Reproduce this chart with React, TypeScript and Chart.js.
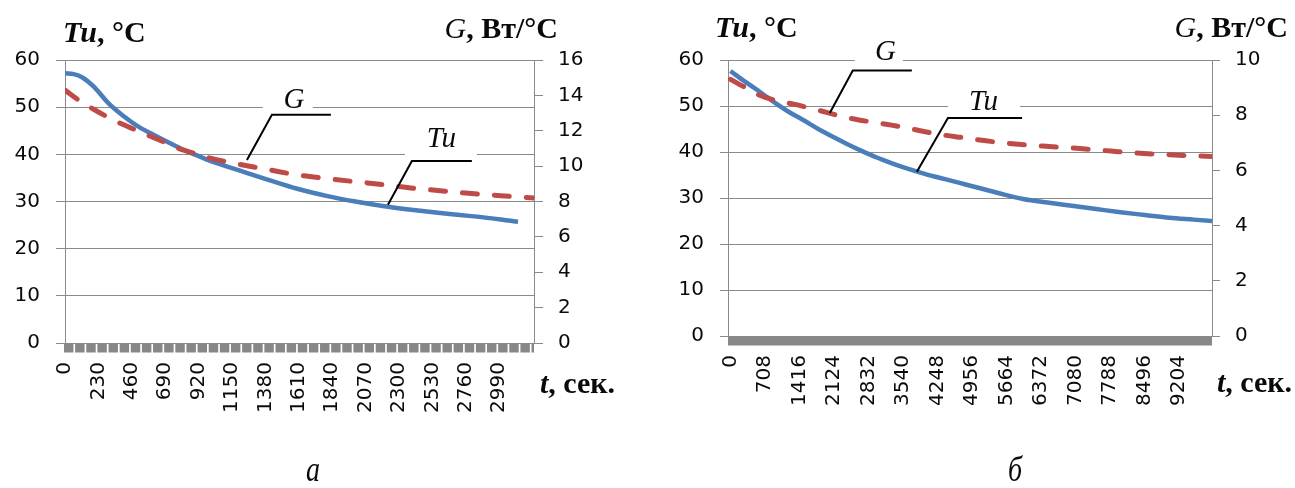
import React, { useEffect, useRef } from "react";
import { Chart, registerables } from "chart.js";

Chart.register(...registerables);

const SANS = '"DejaVu Sans", "Open Sans", sans-serif';
const SERIF = '"Liberation Serif", "Times New Roman", serif';
const GRID = "#8a8a8a";
const BLUE = "#4a7ebb";
const RED = "#be4b48";
const INK = "#0a0a0a";

// ---------- Chart а ----------
const A_X_LABELS = [0, 230, 460, 690, 920, 1150, 1380, 1610, 1840, 2070, 2300, 2530, 2760, 2990];
const A_T_MAX = 3230;
const A_TU_TIME = [0, 60, 120, 200, 300, 400, 500, 600, 700, 800, 900, 1000, 1200, 1400, 1600, 1800, 2000, 2200, 2400, 2600, 2800, 3000, 3120];
const A_TU = [57.2, 57.0, 56.3, 54.3, 50.8, 48.2, 46.0, 44.3, 42.7, 41.2, 39.9, 38.6, 36.6, 34.6, 32.7, 31.2, 30.0, 29.0, 28.2, 27.5, 26.9, 26.2, 25.7];
const A_G_TIME = [0, 100, 200, 300, 400, 500, 600, 700, 800, 900, 1000, 1200, 1400, 1600, 1800, 2000, 2200, 2400, 2600, 2800, 3000, 3230];
const A_G = [14.3, 13.7, 13.2, 12.75, 12.35, 12.0, 11.65, 11.3, 10.95, 10.7, 10.45, 10.1, 9.8, 9.5, 9.3, 9.12, 8.95, 8.75, 8.6, 8.45, 8.33, 8.2];
const A_G_MAX = 16;

// ---------- Chart б ----------
const B_X_LABELS = [0, 708, 1416, 2124, 2832, 3540, 4248, 4956, 5664, 6372, 7080, 7788, 8496, 9204];
const B_T_MIN = -50;
const B_T_MAX = 9875;
const B_TU_TIME = [0, 300, 600, 900, 1200, 1500, 1800, 2100, 2400, 2700, 3000, 3300, 3600, 4000, 4400, 4800, 5200, 5600, 6000, 6500, 7000, 7500, 8000, 8500, 9000, 9500, 9875];
const B_TU = [57.6, 55.3, 53.1, 50.8, 48.7, 46.9, 45.0, 43.3, 41.7, 40.2, 38.8, 37.6, 36.5, 35.2, 34.1, 33.0, 31.9, 30.8, 29.8, 29.0, 28.3, 27.6, 26.9, 26.3, 25.7, 25.3, 25.0];
const B_G_TIME = [0, 200, 400, 600, 900, 1300, 1800, 2300, 2800, 3300, 3800, 4300, 4800, 5200, 5700, 6400, 7100, 7800, 8400, 9100, 9875];
const B_G = [9.3, 9.1, 8.92, 8.72, 8.55, 8.4, 8.18, 7.95, 7.78, 7.64, 7.47, 7.3, 7.18, 7.08, 6.98, 6.88, 6.8, 6.7, 6.62, 6.56, 6.5];
const B_G_MAX = 10;

const TU_MAX = 60;

type Part = { text: string; font: string };

function drawParts(ctx: CanvasRenderingContext2D, parts: Part[], x: number, y: number, align: string) {
  ctx.save();
  ctx.textBaseline = "alphabetic";
  ctx.textAlign = "left";
  ctx.fillStyle = INK;
  const widths = parts.map((p) => {
    ctx.font = p.font;
    return ctx.measureText(p.text).width;
  });
  const total = widths.reduce((a, b) => a + b, 0);
  let cx = align === "right" ? x - total : align === "center" ? x - total / 2 : x;
  parts.forEach((p, i) => {
    ctx.font = p.font;
    ctx.fillText(p.text, cx, y);
    cx += widths[i];
  });
  ctx.restore();
}

const titleLeft: Part[] = [
  { text: "Tu", font: `italic bold 30px ${SERIF}` },
  { text: ", °C", font: `bold 30px ${SERIF}` },
];
const titleRight: Part[] = [
  { text: "G", font: `italic 30px ${SERIF}` },
  { text: ", Вт/°C", font: `bold 30px ${SERIF}` },
];
const titleT: Part[] = [
  { text: "t", font: `italic bold 30px ${SERIF}` },
  { text: ", сек.", font: `bold 30px ${SERIF}` },
];

type Annot = {
  label: string;
  at: number[]; // [t, value] label centre / baseline
  box: number[]; // [t1, v1, t2, v2]
  path: number[][];
};

type Spec = {
  W: number;
  H: number;
  left: number;
  right: number;
  top: number;
  bottom: number;
  xMin: number;
  xMax: number;
  xLabels: number[];
  tuTime: number[];
  tu: number[];
  gTime: number[];
  g: number[];
  gMax: number;
  tickLen: number;
  bandStep: number | null;
  leftTitle: number[];
  rightTitle: number[];
  tTitle: number[];
  caption: string;
  captionPos: number[];
  annots: Annot[];
};

function makeDeco(spec: Spec) {
  return {
    id: "deco",
    afterDatasetsDraw(chart: any) {
      const ctx: CanvasRenderingContext2D = chart.ctx;
      const xs = chart.scales.x;
      const ys = chart.scales.y;
      const px = (t: number) => xs.getPixelForValue(t);
      const py = (v: number) => ys.getPixelForValue(v);
      spec.annots.forEach((a) => {
        ctx.save();
        ctx.fillStyle = "#ffffff";
        const x1 = px(a.box[0]);
        const x2 = px(a.box[2]);
        const y1 = py(a.box[3]);
        const y2 = py(a.box[1]);
        ctx.fillRect(x1, y1, x2 - x1, y2 - y1);
        ctx.restore();
        drawParts(ctx, [{ text: a.label, font: `italic 29px ${SERIF}` }], px(a.at[0]), py(a.at[1]), "center");
        ctx.save();
        ctx.strokeStyle = "#000000";
        ctx.lineWidth = 2;
        ctx.lineJoin = "miter";
        ctx.beginPath();
        a.path.forEach((p, i) => {
          if (i === 0) ctx.moveTo(px(p[0]), py(p[1]));
          else ctx.lineTo(px(p[0]), py(p[1]));
        });
        ctx.stroke();
        ctx.restore();
      });
    },
    afterDraw(chart: any) {
      const ctx: CanvasRenderingContext2D = chart.ctx;
      const ca = chart.chartArea;
      const xs = chart.scales.x;
      // dense category tick band
      ctx.save();
      ctx.fillStyle = "#878787";
      const by = ca.bottom + 0.5;
      if (spec.bandStep) {
        const period = xs.getPixelForValue(spec.bandStep) - xs.getPixelForValue(0);
        for (let x0 = ca.left - 1; x0 < ca.right; x0 += period) {
          const w = Math.min(period - 1.7, ca.right - x0);
          ctx.fillRect(x0, by, w, 9);
        }
      } else {
        ctx.fillRect(ca.left, by, ca.right - ca.left, 9);
      }
      ctx.restore();
      drawParts(ctx, titleLeft, ca.left + spec.leftTitle[0], ca.top + spec.leftTitle[1], "left");
      drawParts(ctx, titleRight, ca.right + spec.rightTitle[0], ca.top + spec.rightTitle[1], "right");
      drawParts(ctx, titleT, ca.right + spec.tTitle[0], ca.bottom + spec.tTitle[1], "left");
      ctx.save();
      ctx.translate(spec.captionPos[0], spec.captionPos[1]);
      ctx.scale(1, 1.3);
      ctx.font = `italic 28px ${SERIF}`;
      ctx.textAlign = "center";
      ctx.textBaseline = "alphabetic";
      ctx.fillStyle = INK;
      ctx.fillText(spec.caption, 0, 0);
      ctx.restore();
    },
  };
}

function makeConfig(spec: Spec): any {
  const tickFont = { family: SANS, size: 20 };
  return {
    type: "line",
    data: {
      datasets: [
        {
          label: "G",
          yAxisID: "y1",
          order: 0,
          data: spec.gTime.map((t, i) => ({ x: t, y: spec.g[i] })),
          borderColor: RED,
          borderWidth: 5,
          borderDash: [15, 17],
          borderCapStyle: "round",
          pointRadius: 0,
          cubicInterpolationMode: "monotone",
          fill: false,
        },
        {
          label: "Tu",
          yAxisID: "y",
          order: 1,
          data: spec.tuTime.map((t, i) => ({ x: t, y: spec.tu[i] })),
          borderColor: BLUE,
          borderWidth: 4.5,
          pointRadius: 0,
          cubicInterpolationMode: "monotone",
          fill: false,
        },
      ],
    },
    options: {
      responsive: false,
      maintainAspectRatio: false,
      animation: false,
      events: [],
      layout: { padding: { top: spec.top, left: 0, right: 0, bottom: 0 } },
      plugins: { legend: { display: false }, tooltip: { enabled: false } },
      scales: {
        x: {
          type: "linear",
          min: spec.xMin,
          max: spec.xMax,
          afterBuildTicks: (s: any) => {
            s.ticks = spec.xLabels.map((v) => ({ value: v }));
          },
          afterFit: (s: any) => {
            s.height = spec.H - spec.bottom;
          },
          ticks: {
            autoSkip: false,
            minRotation: 90,
            maxRotation: 90,
            padding: 19,
            font: tickFont,
            color: INK,
            callback: (v: any) => String(v),
          },
          grid: { display: false, drawTicks: false },
          border: { display: true, color: GRID, width: 1 },
        },
        y: {
          position: "left",
          min: 0,
          max: TU_MAX,
          afterFit: (s: any) => {
            s.width = spec.left;
          },
          ticks: { stepSize: 10, padding: 16, font: tickFont, color: INK },
          grid: { color: GRID, lineWidth: 1, drawTicks: true, tickLength: spec.tickLen },
          border: { display: true, color: GRID, width: 1 },
        },
        y1: {
          position: "right",
          min: 0,
          max: spec.gMax,
          afterFit: (s: any) => {
            s.width = spec.W - spec.right;
          },
          ticks: { stepSize: 2, padding: 15, font: tickFont, color: INK },
          grid: { drawOnChartArea: false, color: GRID, drawTicks: true, tickLength: spec.tickLen },
          border: { display: true, color: GRID, width: 1 },
        },
      },
    },
    plugins: [makeDeco(spec)],
  };
}

const SPEC_A: Spec = {
  W: 650,
  H: 488,
  left: 65,
  right: 534,
  top: 60,
  bottom: 343,
  xMin: 0,
  xMax: A_T_MAX,
  xLabels: A_X_LABELS,
  tuTime: A_TU_TIME,
  tu: A_TU,
  gTime: A_G_TIME,
  g: A_G,
  gMax: A_G_MAX,
  tickLen: 9,
  bandStep: 230 / 3,
  leftTitle: [-2, -18],
  rightTitle: [24, -22],
  tTitle: [6, 50],
  caption: "а",
  captionPos: [313, 481],
  annots: [
    { label: "G", at: [1577, 49.9], box: [1363, 49.4, 1707, 55.4], path: [[1253, 38.8], [1425, 48.4], [1831, 48.4]] },
    { label: "Tu", at: [2592, 41.6], box: [2341, 39.3, 2837, 46.9], path: [[2224, 29.3], [2389, 38.6], [2802, 38.6]] },
  ],
};

const SPEC_B: Spec = {
  W: 645,
  H: 488,
  left: 78,
  right: 562,
  top: 60,
  bottom: 336,
  xMin: B_T_MIN,
  xMax: B_T_MAX,
  xLabels: B_X_LABELS,
  tuTime: B_TU_TIME,
  tu: B_TU,
  gTime: B_G_TIME,
  g: B_G,
  gMax: B_G_MAX,
  tickLen: 8,
  bandStep: null,
  leftTitle: [-13, -23],
  rightTitle: [76, -23],
  tTitle: [5, 56],
  caption: "б",
  captionPos: [365, 481],
  annots: [
    { label: "G", at: [3177, 60.0], box: [2550, 59.1, 3536, 65.4], path: [[2037, 48.5], [2509, 57.7], [3720, 57.7]] },
    { label: "Tu", at: [5189, 49.1], box: [4460, 48.9, 5939, 55.7], path: [[3823, 35.7], [4460, 47.4], [5980, 47.4]] },
  ],
};

function ChartPanel({ spec, x }: { spec: Spec; x: number }) {
  const ref = useRef<HTMLCanvasElement | null>(null);
  useEffect(() => {
    if (!ref.current) return;
    const chart = new Chart(ref.current, makeConfig(spec));
    return () => chart.destroy();
  }, [spec]);
  return (
    <canvas
      ref={ref}
      width={spec.W}
      height={spec.H}
      style={{ position: "absolute", left: x, top: 0, width: spec.W, height: spec.H }}
    />
  );
}

export default function App() {
  return (
    <div style={{ position: "absolute", left: 0, top: 0, width: 1295, height: 488, background: "#ffffff", overflow: "hidden" }}>
      <ChartPanel spec={SPEC_A} x={0} />
      <ChartPanel spec={SPEC_B} x={650} />
    </div>
  );
}
